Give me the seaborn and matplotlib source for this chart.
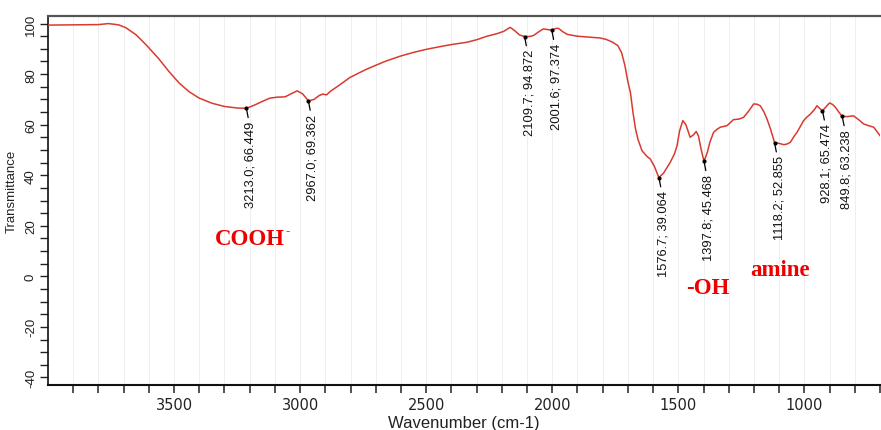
import matplotlib
matplotlib.use("Agg")
import matplotlib.pyplot as plt
import seaborn as sns
import pandas as pd
from matplotlib.ticker import FixedLocator, MultipleLocator

# ---- data ----
wavenumber = [4000, 3900, 3800, 3760, 3720, 3690, 3650, 3610, 3560, 3520, 3480, 3440,
              3400, 3350, 3300, 3250, 3213, 3180, 3150, 3120, 3090, 3060, 3030, 3012,
              2990, 2967, 2945, 2925, 2910, 2895, 2880, 2848, 2802, 2760, 2735, 2700,
              2656, 2600, 2550, 2500, 2444, 2400, 2339, 2300, 2259, 2220, 2193, 2167,
              2150, 2130, 2110, 2090, 2074, 2050, 2035, 2015, 2002, 1985, 1975, 1960,
              1940, 1900, 1850, 1810, 1785, 1760, 1740, 1725, 1712, 1700, 1690, 1680,
              1670, 1660, 1644, 1625, 1611, 1595, 1577, 1558, 1545, 1532, 1515, 1505,
              1495, 1482, 1470, 1460, 1453, 1440, 1429, 1420, 1410, 1398, 1385, 1375,
              1360, 1345, 1333, 1307, 1281, 1260, 1241, 1220, 1201, 1188, 1175, 1160,
              1148, 1135, 1118, 1100, 1082, 1070, 1056, 1040, 1029, 1015, 1003, 990,
              976, 960, 950, 940, 928, 915, 900, 888, 877, 865, 850, 830, 805, 785,
              765, 745, 725, 710, 695]
transmittance = [99.4, 99.5, 99.6, 100.0, 99.5, 98.3, 95.5, 91.5, 86.0, 81.0, 76.5, 73.0,
                 70.5, 68.5, 67.2, 66.6, 66.45, 67.8, 69.2, 70.5, 70.9, 71.0, 72.5, 73.4,
                 72.2, 69.4, 70.0, 71.5, 72.1, 71.8, 73.2, 75.4, 78.7, 80.8, 82.0, 83.5,
                 85.3, 87.2, 88.6, 89.8, 90.9, 91.7, 92.6, 93.6, 95.0, 96.0, 96.9, 98.5,
                 97.3, 95.5, 94.87, 94.9, 95.3, 97.0, 97.9, 97.6, 97.37, 98.1, 98.1, 96.9,
                 95.7, 95.0, 94.6, 94.3, 93.7, 92.6, 91.3, 88.5, 83.5, 77.0, 72.8, 65.0,
                 58.5, 54.2, 49.7, 47.5, 46.4, 43.5, 39.06, 40.9, 43.0, 45.1, 48.5, 51.7,
                 57.5, 61.6, 60.0, 57.0, 55.0, 56.0, 57.3, 55.5, 50.5, 45.47, 49.0, 53.0,
                 57.0, 58.3, 59.0, 59.6, 62.0, 62.2, 62.9, 65.5, 68.2, 68.1, 67.5, 65.0,
                 62.2, 58.5, 52.86, 52.6, 52.1, 52.3, 53.0, 55.5, 57.0, 59.5, 61.6, 63.0,
                 64.2, 66.0, 67.5, 66.5, 65.47, 67.0, 68.6, 68.0, 66.9, 65.2, 63.24, 63.2,
                 63.5, 62.0, 60.3, 59.6, 59.0, 57.0, 55.0]

peak_wn = [3213.0, 2967.0, 2109.7, 2001.6, 1576.7, 1397.8, 1118.2, 928.1, 849.8]
peak_tr = [66.449, 69.362, 94.872, 97.374, 39.064, 45.468, 52.855, 65.474, 63.238]
peak_labels = ["3213.0; 66.449", "2967.0; 69.362", "2109.7; 94.872", "2001.6; 97.374",
               "1576.7; 39.064", "1397.8; 45.468", "1118.2; 52.855", "928.1; 65.474",
               "849.8; 63.238"]

group_labels = ["COOH", "-OH", "amine"]
group_wn = [3337, 1468, 1214]
group_tr = [12.8, -6.6, 0.5]

x_major = [3500, 3000, 2500, 2000, 1500, 1000]
x_minor = list(range(3900, 650, -100))
y_major = [-40, -20, 0, 20, 40, 60, 80, 100]

# ---- style ----
sns.set_style("white")
plt.rcParams['font.family'] = ['Liberation Sans', 'DejaVu Sans']
plt.rcParams['axes.unicode_minus'] = False

W, H = 881, 431
fig = plt.figure(figsize=(W / 100, H / 100), dpi=100)
ax = fig.add_axes([48 / W, 1 - 386 / H, 832 / W, 369 / H])

df = pd.DataFrame({"Wavenumber": wavenumber, "Transmittance": transmittance})
sns.lineplot(data=df, x="Wavenumber", y="Transmittance", color="#d93a30",
             linewidth=1.1, sort=False, ax=ax, zorder=3)

pk = pd.DataFrame({"w": peak_wn, "t": peak_tr})
sns.scatterplot(data=pk, x="w", y="t", color="black", s=9, linewidth=0, ax=ax, zorder=5)

for w, t, lab in zip(peak_wn, peak_tr, peak_labels):
    ax.annotate(lab, xy=(w, t), xytext=(3.2, -9), textcoords="offset points",
                rotation=90, ha="center", va="top", fontsize=9.3, color="#111111",
                arrowprops=dict(arrowstyle="-", color="black", lw=0.9,
                                shrinkA=0, shrinkB=0, relpos=(1.0, 0.5)), zorder=6)

for w, t, lab in zip(group_wn, group_tr, group_labels):
    txt = ax.text(w, t, lab, color="#ee0000", fontsize=16.5, fontweight="bold",
                  family="Liberation Serif", ha="left", va="baseline", zorder=6)
    if lab == "COOH":
        ax.annotate("-", xy=(1.0, 0.62), xycoords=txt, color="#ee0000", fontsize=9,
                    fontweight="bold", family="Liberation Serif", ha="left", va="bottom")

ax.set_xlim(4000, 700)
ax.set_ylim(-43, 103)

ax.xaxis.set_major_locator(FixedLocator(x_major))
ax.xaxis.set_minor_locator(FixedLocator([v for v in x_minor if v not in x_major]))
ax.yaxis.set_major_locator(FixedLocator(y_major))
ax.yaxis.set_minor_locator(MultipleLocator(5))

ax.tick_params(axis="both", which="both", direction="out", color="#222222")
ax.tick_params(axis="x", which="both", length=5.5, width=1.1, bottom=True)
ax.tick_params(axis="y", which="both", length=6, width=1.0, left=True)
ax.tick_params(axis="x", which="major", labelsize=10.5, pad=3)
ax.tick_params(axis="y", which="major", labelsize=9.5, pad=2, labelrotation=90)
for lbl in ax.get_xticklabels():
    lbl.set_family("DejaVu Sans")
    lbl.set_color("#222222")
for lbl in ax.get_yticklabels():
    lbl.set_va("center")
    lbl.set_color("#222222")

ax.grid(False)
ax.xaxis.grid(True, which="both", color="#eeeeee", linewidth=0.7)
ax.set_axisbelow(True)

for side in ["left", "bottom"]:
    ax.spines[side].set_color("#111111")
ax.spines["left"].set_linewidth(1.2)
ax.spines["bottom"].set_linewidth(1.5)
ax.spines["top"].set_color("#555555")
ax.spines["top"].set_linewidth(1.6)
ax.spines["right"].set_visible(False)

ax.set_xlabel("Wavenumber (cm-1)", fontsize=12, labelpad=2, color="#222222")
ax.set_ylabel("Transmittance", fontsize=9.5, color="#222222")
ax.yaxis.set_label_coords(-0.036, 0.528)

fig.savefig("out.png", dpi=100, facecolor="white")
